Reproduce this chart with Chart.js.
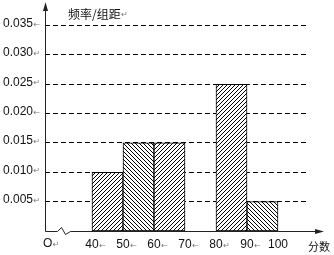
<!DOCTYPE html>
<html>
<head>
<meta charset="utf-8">
<script src="https://cdn.jsdelivr.net/npm/chart.js@4/dist/chart.umd.min.js"></script>
<style>
  html, body { margin: 0; padding: 0; background: #fff; }
  #wrap { width: 334px; height: 255px; position: relative; }
</style>
</head>
<body>
<div id="wrap"><canvas id="c"></canvas></div>
<script>
// histogram bins (score groups) and frequency/width values
const binStart = [40, 50, 60, 80, 90];
const binEnd = [50, 60, 70, 90, 100];
const density = [0.010, 0.015, 0.015, 0.025, 0.005];

const xTicks = [40, 50, 60, 70, 80, 90, 100];
const xTickLabels = ['40', '50', '60', '70', '80', '90', '100'];
const xTickMarks = ['←', '←', '←', '←', '↵', '←', ''];
const yTicks = [0.005, 0.010, 0.015, 0.020, 0.025, 0.030, 0.035];
const yTickLabels = ['0.005', '0.010', '0.015', '0.020', '0.025', '0.030', '0.035'];
const yTickMarks = ['↵', '↵', '↵', '←', '↵', '↵', '←'];

const yTitle = '频率/组距';
const xTitle = '分数';
const originLabel = 'O';

const NUM_FONT = "12px 'Liberation Sans', Arial, sans-serif";
const CJK_FONT = "12px 'Noto Sans CJK SC', sans-serif";
const MARK_FONT = "8px 'DejaVu Sans', sans-serif";

function makeHatch(dir) {
    const s = 4;
    const cv = document.createElement('canvas');
    cv.width = s; cv.height = s;
    const g = cv.getContext('2d');
    g.fillStyle = '#fff';
    g.fillRect(0, 0, s, s);
    g.strokeStyle = '#000';
    g.lineWidth = 1;
    g.beginPath();
    if (dir === '/') {
        g.moveTo(-1, s + 1); g.lineTo(s + 1, -1);
        g.moveTo(-1, 1); g.lineTo(1, -1);
        g.moveTo(s - 1, s + 1); g.lineTo(s + 1, s - 1);
    } else {
        g.moveTo(-1, -1); g.lineTo(s + 1, s + 1);
        g.moveTo(-1, s - 1); g.lineTo(1, s + 1);
        g.moveTo(s - 1, -1); g.lineTo(s + 1, 1);
    }
    g.stroke();
    return g.createPattern(cv, 'repeat');
}

const hatchStyle = ['/', '\\', '/', '/', '\\'];

function textWithMark(ctx, txt, mark, x, y, align, font) {
    ctx.font = font;
    ctx.textBaseline = 'middle';
    ctx.fillStyle = '#111';
    const w = ctx.measureText(txt).width;
    let left = x;
    if (align === 'center') left = x - w / 2;
    else if (align === 'right') left = x - w;
    ctx.textAlign = 'left';
    ctx.fillText(txt, left, y);
    if (mark) {
        ctx.font = MARK_FONT;
        ctx.fillStyle = '#777';
        ctx.fillText(mark, left + w + 0.5, y + 1);
    }
}

const axesPlugin = {
    id: 'axesPlugin',
    afterDraw(chart) {
        const ctx = chart.ctx;
        const xs = chart.scales.x, ys = chart.scales.y;
        const x0 = Math.round(xs.left) + 0.5;
        const y0 = Math.round(ys.getPixelForValue(0)) + 0.5;
        ctx.save();
        ctx.strokeStyle = '#222';
        ctx.fillStyle = '#222';
        ctx.lineWidth = 1;

        // y axis with arrow
        ctx.beginPath();
        ctx.moveTo(x0, y0);
        ctx.lineTo(x0, 6);
        ctx.stroke();
        ctx.beginPath();
        ctx.moveTo(x0, 2);
        ctx.lineTo(x0 - 2.5, 11);
        ctx.lineTo(x0 + 2.5, 11);
        ctx.closePath();
        ctx.fill();

        // x axis with break mark and arrow
        ctx.beginPath();
        ctx.moveTo(x0, y0);
        ctx.lineTo(x0 + 12, y0);
        ctx.lineTo(x0 + 16, y0 - 4);
        ctx.lineTo(x0 + 20, y0 + 3);
        ctx.lineTo(x0 + 25, y0);
        ctx.lineTo(320, y0);
        ctx.stroke();
        ctx.beginPath();
        ctx.moveTo(324, y0);
        ctx.lineTo(315, y0 - 2.5);
        ctx.lineTo(315, y0 + 2.5);
        ctx.closePath();
        ctx.fill();

        // y tick labels
        yTicks.forEach((v, i) => {
            const py = ys.getPixelForValue(v) - 2;
            textWithMark(ctx, yTickLabels[i], yTickMarks[i], 33, py, 'right', NUM_FONT);
        });
        // x tick labels
        xTicks.forEach((v, i) => {
            const px = xs.getPixelForValue(v);
            textWithMark(ctx, xTickLabels[i], xTickMarks[i], px, 245, 'center', NUM_FONT);
        });

        textWithMark(ctx, originLabel, '↵', 43, 244, 'left', NUM_FONT);
        textWithMark(ctx, yTitle, '↵', 68, 14, 'left', CJK_FONT);
        textWithMark(ctx, xTitle, '', 308, 247, 'left', "11px 'Noto Sans CJK SC', sans-serif");
        ctx.restore();
    }
};

new Chart(document.getElementById('c'), {
    type: 'bar',
    data: {
        datasets: [{
            data: binStart.map((s, i) => ({ x: (s + binEnd[i]) / 2, y: density[i] })),
            backgroundColor: hatchStyle.map(makeHatch),
            borderColor: '#000',
            borderWidth: 1,
            borderSkipped: false,
            barPercentage: 1,
            categoryPercentage: 1
        }]
    },
    options: {
        responsive: true,
        maintainAspectRatio: false,
        animation: false,
        events: [],
        layout: { padding: { left: 45, right: 27, top: 5, bottom: 24 } },
        plugins: { legend: { display: false }, tooltip: { enabled: false } },
        scales: {
            x: {
                type: 'linear',
                display: false,
                offset: false,
                min: 24.85,
                max: 109.35,
                afterBuildTicks: s => { s.ticks = xTicks.map(v => ({ value: v })); }
            },
            y: {
                min: 0,
                max: 0.0385,
                afterBuildTicks: s => { s.ticks = yTicks.map(v => ({ value: v })); },
                ticks: { display: false },
                grid: { color: '#000', lineWidth: 1, drawTicks: false },
                border: { display: false, dash: [5, 3] }
            }
        }
    },
    plugins: [axesPlugin]
});
</script>
</body>
</html>
